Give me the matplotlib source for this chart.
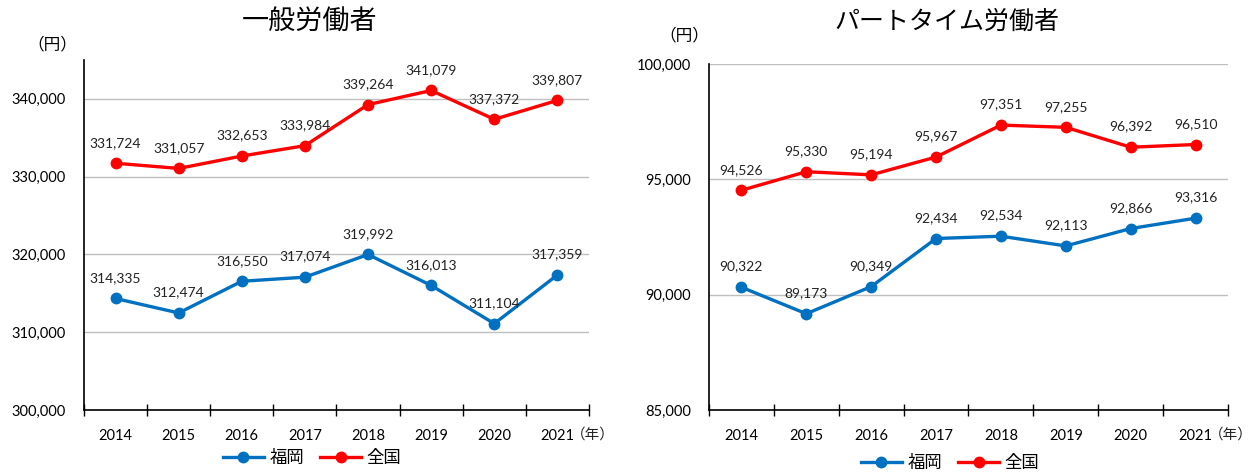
import matplotlib.pyplot as plt
from matplotlib.ticker import FuncFormatter
import matplotlib.transforms as mtrans

plt.rcParams['font.family'] = ['Lato', 'Noto Sans CJK JP', 'DejaVu Sans']
JP = ['Noto Sans CJK JP', 'DejaVu Sans']

years = ['2014', '2015', '2016', '2017', '2018', '2019', '2020', '2021']

# 一般労働者
ippan_zenkoku = [331724, 331057, 332653, 333984, 339264, 341079, 337372, 339807]
ippan_fukuoka = [314335, 312474, 316550, 317074, 319992, 316013, 311104, 317359]
# パートタイム労働者
part_zenkoku = [94526, 95330, 95194, 95967, 97351, 97255, 96392, 96510]
part_fukuoka = [90322, 89173, 90349, 92434, 92534, 92113, 92866, 93316]

BLUE = '#0070C0'
RED = '#FF0000'

fig = plt.figure(figsize=(12.55, 4.72), dpi=100)
ax1 = fig.add_axes([0.0669, 0.1314, 0.4024, 0.7415])
ax2 = fig.add_axes([0.5649, 0.1314, 0.4136, 0.7330])


def draw(ax, fukuoka, zenkoku, ylim, yticks, grid_ticks):
    x = list(range(len(years)))
    ax.plot(x, fukuoka, color=BLUE, lw=2.4, marker='o', ms=7.5, label='福岡', zorder=3)
    ax.plot(x, zenkoku, color=RED, lw=2.4, marker='o', ms=7.5, label='全国', zorder=3)
    for xs, v in zip(x, fukuoka):
        ax.annotate(f'{v:,}', (xs, v), xytext=(0, 10.5), textcoords='offset points',
                    ha='center', va='bottom', fontsize=10, color='#222222')
    for xs, v in zip(x, zenkoku):
        ax.annotate(f'{v:,}', (xs, v), xytext=(0, 10.5), textcoords='offset points',
                    ha='center', va='bottom', fontsize=10, color='#222222')
    ax.set_xlim(-0.5, len(years) - 0.5)
    ax.set_ylim(*ylim)
    ax.set_yticks(yticks)
    ax.yaxis.set_major_formatter(FuncFormatter(lambda v, p: f'{int(v):,}'))
    for g in grid_ticks:
        ax.axhline(g, color='#BFBFBF', lw=1, zorder=1)
    ax.set_xticks(x)
    ax.set_xticklabels(years)
    ax.set_xticks([i - 0.5 for i in range(len(years) + 1)], minor=True)
    ax.tick_params(axis='x', which='major', length=0, pad=14, labelsize=10.5)
    ax.tick_params(axis='x', which='minor', direction='inout', length=8, width=1)
    ax.tick_params(axis='y', length=0, pad=13, labelsize=10.5)
    for s in ['top', 'right']:
        ax.spines[s].set_visible(False)
    ax.spines['left'].set_linewidth(1.2)
    ax.spines['bottom'].set_linewidth(1.2)
    trans = mtrans.blended_transform_factory(ax.transData, ax.transAxes)
    ax.text(7.21, -0.071, '（年）', transform=trans, ha='left', va='center', fontsize=10.5,
            family=JP, color='#222222')


draw(ax1, ippan_fukuoka, ippan_zenkoku, (300000, 345000),
     [300000, 310000, 320000, 330000, 340000], [310000, 320000, 330000, 340000])
draw(ax2, part_fukuoka, part_zenkoku, (85000, 100000),
     [85000, 90000, 95000, 100000], [90000, 95000, 100000])

fig.text(310 / 1255, 1 - 22 / 472, '一般労働者', ha='center', va='center', fontsize=19.5, family=JP)
fig.text(947 / 1255, 1 - 22 / 472, 'パートタイム労働者', ha='center', va='center', fontsize=18, family=JP)
fig.text(0.042, 0.905, '（円）', ha='center', va='center', fontsize=12, family=JP)
fig.text(0.545, 0.924, '（円）', ha='center', va='center', fontsize=12, family=JP)

leg_kw = dict(ncol=2, frameon=False, handlelength=2.4, columnspacing=0.9, handletextpad=0.3,
              prop={'family': JP, 'size': 12.5})
ax1.legend(loc='center', bbox_to_anchor=(312 / 1255, 1 - 458 / 472), bbox_transform=fig.transFigure,
           **leg_kw)
ax2.legend(loc='center', bbox_to_anchor=(950 / 1255, 1 - 463 / 472), bbox_transform=fig.transFigure,
           **leg_kw)

fig.savefig('out.png', dpi=100)
